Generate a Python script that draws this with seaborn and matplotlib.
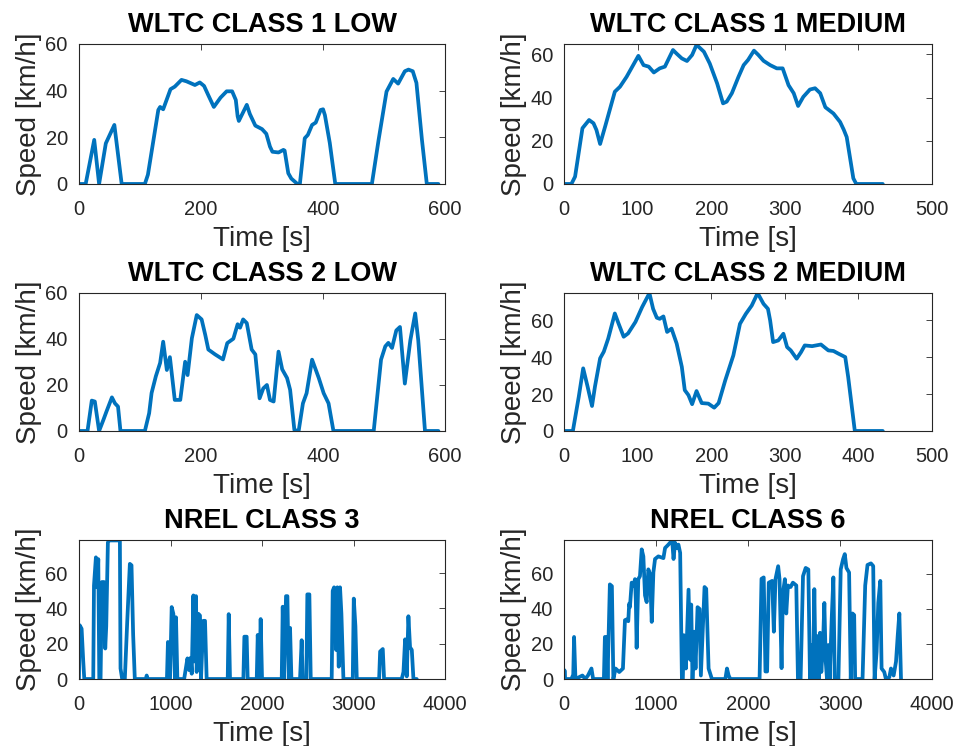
import pandas as pd
import matplotlib
matplotlib.use("Agg")
import matplotlib.pyplot as plt
import seaborn as sns

# ---------- data ----------
WLTC1_LOW_T = [0, 11, 25, 33, 44, 58, 70, 108, 113, 130, 133, 138, 150, 157, 168, 176,
               190, 198, 205, 212, 221, 232, 242, 251, 257, 260, 262, 275, 280, 289, 300,
               307, 313, 317, 327, 335, 337, 343, 348, 358, 362, 370, 375, 382, 388, 396,
               400, 403, 411, 420, 480, 491, 504, 515, 523, 534, 540, 547, 553, 562, 570, 589]
WLTC1_LOW_V = [0, 0, 18.9, 0, 17.4, 25.3, 0, 0, 4, 31.7, 33, 32, 40.6, 41.7, 44.6, 44,
               42.4, 43.5, 42, 38, 33, 37, 39.7, 39.7, 36, 29, 27, 33.9, 30, 25, 23.5,
               21.5, 16, 13.8, 13.5, 14.6, 14.3, 4.6, 2.3, 0, 0, 19.6, 21, 25.3, 26.3, 31.7,
               32, 29.5, 17.6, 0, 0, 18.9, 39.6, 45, 43, 48.3, 49, 48.3, 43.3, 19, 0, 0]

WLTC1_MED_T = [0, 10, 15, 25, 34, 40, 44, 49, 56, 69, 76, 85, 99, 101, 108, 115, 122, 130,
               137, 148, 153, 160, 167, 174, 180, 185, 190, 198, 208, 216, 221, 228, 237,
               244, 250, 258, 264, 271, 280, 289, 297, 305, 312, 318, 325, 334, 341, 348,
               355, 366, 375, 380, 384, 393, 397, 433]
WLTC1_MED_V = [0, 0, 3.4, 25.8, 29.6, 28.1, 25, 18.5, 26.8, 42.7, 45, 49.6, 58.1, 59.3, 55,
               54.3, 51.6, 53.5, 54.3, 62, 60.3, 58.1, 56.9, 59.7, 64.4, 62.8, 61.2, 55.7,
               46.5, 37.3, 38.1, 42, 49.6, 55, 57.4, 61.7, 59.7, 57, 55, 53.5, 53.5, 45.7,
               42, 36.1, 40.3, 43.7, 44.3, 42, 35.5, 32.6, 28.7, 25.1, 21.7, 2.6, 0, 0]

WLTC2_LOW_T = [0, 14, 21, 26, 33, 40, 45, 54, 59, 64, 68, 108, 115, 119, 126, 133, 138,
               144, 149, 157, 166, 174, 178, 185, 193, 201, 207, 212, 223, 236, 243, 253,
               260, 264, 269, 275, 283, 289, 296, 302, 308, 313, 319, 327, 333, 341, 346,
               353, 360, 367, 373, 382, 393, 401, 409, 417, 483, 495, 502, 507, 513, 520,
               526, 534, 543, 551, 556, 567, 589]
WLTC2_LOW_V = [0, 0, 13.2, 12.8, 0, 4.8, 8.4, 14.6, 12, 10.6, 0, 0, 7.7, 16.5, 23.8, 29.6,
               38.8, 26.5, 32.1, 13.5, 13.5, 30.1, 24.3, 40.3, 50.4, 48.5, 41.7, 35.4,
               33.3, 31.1, 38.2, 40.1, 46.4, 44.9, 48.5, 46.9, 35.4, 33.3, 14.2, 18.5, 20,
               13.5, 12.8, 34.5, 26.8, 23, 17.9, 0.4, 0, 12, 16.4, 31, 23, 16.4, 12, 0, 0,
               31, 36.8, 38.3, 36.1, 43.7, 45.2, 20.6, 39.4, 51.1, 39.4, 0, 0]

WLTC2_MED_T = [0, 12, 20, 26, 32, 38, 42, 49, 54, 60, 69, 74, 81, 87, 97, 106, 116, 121,
               126, 130, 135, 140, 146, 153, 160, 164, 169, 174, 180, 187, 196, 204, 210,
               219, 230, 239, 247, 255, 263, 271, 277, 280, 284, 291, 298, 303, 308, 316,
               322, 327, 337, 349, 359, 366, 373, 382, 386, 391, 395, 433]
WLTC2_MED_V = [0, 0, 18.5, 33.9, 24, 13.5, 24, 39.3, 42.9, 50, 63.6, 58.2, 51, 52.8, 59, 67,
               74.6, 66.1, 61.3, 60.7, 62, 53.6, 55.4, 47.3, 34.7, 22.1, 19.4, 14.5, 21.6,
               15.1, 14.8, 12.6, 15.1, 27.4, 40.9, 58, 63.4, 67.9, 74.6, 68.8, 66.1, 59.8,
               48.1, 49, 52.6, 45.4, 43.6, 39.1, 42.7, 46.3, 45.9, 46.8, 43.6, 43.3, 41.8,
               40, 29.2, 13, 0, 0]

NREL3_T = [0, 8, 29, 47, 58, 156, 164, 185, 200, 211, 222, 236, 251, 273, 287, 298, 316,
           331, 447, 454, 472, 501, 527, 556, 574, 592, 610, 730, 740, 750, 961, 972, 980,
           995, 1013, 1031, 1049, 1060, 1075, 1149, 1185, 1205, 1220, 1232, 1250, 1262,
           1270, 1279, 1286, 1304, 1322, 1333, 1359, 1377, 1395, 1625, 1636, 1650, 1796,
           1807, 1832, 1843, 1942, 1953, 1971, 1985, 2000, 2215, 2226, 2240, 2262, 2277,
           2292, 2306, 2321, 2415, 2433, 2444, 2484, 2495, 2517, 2532, 2761, 2772, 2787,
           2809, 2823, 2838, 2852, 2867, 2889, 2991, 3002, 3020, 3035, 3279, 3290, 3319,
           3333, 3526, 3545, 3563, 3581, 3599, 3617, 3636, 3654, 3690]
NREL3_V = [0, 30.5, 28.5, 9.8, 0, 0, 53, 69, 52, 68, 0, 0, 55, 55, 17.3, 30, 77.5,
           78.6, 78.6, 6, 0, 0, 32.3, 65.3, 64.5, 25, 0, 0, 2, 0, 0, 21, 0,
           0, 40.8, 37, 0, 35, 0, 0, 11.7, 5, 12, 3, 47.4, 10,
           46, 47, 4, 37, 36, 0, 33, 33, 0, 0, 36.8, 0, 0,
           24, 24, 0, 0, 25, 0, 34, 0, 0, 41, 0, 47, 47,
           0, 29, 0, 0, 22, 0, 0, 48, 48, 0, 0, 50, 52,
           16.5, 52, 7, 52, 37, 0, 0, 45.6, 30, 0, 0, 15.6, 17,
           0, 0, 4, 22.5, 1.5, 35.6, 18, 16.5, 0, 0]

NREL6_T = [0, 5, 12, 80, 100, 109, 124, 200, 230, 260, 298, 316, 433, 444, 462, 473, 498,
           520, 536, 560, 600, 640, 662, 680, 698, 708, 716, 735, 753, 771, 780, 789, 807,
           825, 844, 862, 880, 898, 916, 935, 953, 971, 989, 1025, 1080, 1098, 1134, 1175,
           1190, 1207, 1225, 1243, 1262, 1281, 1291, 1302, 1324, 1353, 1371, 1382, 1396,
           1415, 1429, 1451, 1473, 1487, 1509, 1527, 1545, 1560, 1571, 1607, 1753, 1771,
           1789, 1807, 2125, 2146, 2170, 2189, 2207, 2225, 2262, 2280, 2298, 2327, 2342,
           2364, 2378, 2400, 2415, 2433, 2462, 2487, 2524, 2542, 2571, 2597, 2626, 2655,
           2673, 2691, 2706, 2720, 2735, 2753, 2771, 2782, 2796, 2815, 2829, 2844, 2858,
           2873, 2887, 2909, 2927, 2942, 2982, 3007, 3033, 3051, 3069, 3098, 3116, 3135,
           3153, 3164, 3244, 3273, 3298, 3335, 3360, 3375, 3397, 3415, 3437, 3451, 3480,
           3498, 3535, 3553, 3582, 3608, 3626, 3644, 3662]
NREL6_V = [0, 5, 0, 0, 2.5, 24, 0, 2, 0, 2, 6, 0, 0, 24, 24, 0, 54,
           53, 0, 6, 4, 6, 33.6, 34, 33, 43, 41, 55, 53, 57, 45, 17.8, 57,
           58.7, 74, 70, 47.7, 43.9, 62.6, 59.8, 32.6, 60.9, 68.5, 70, 69, 74.8, 76.7, 79.2,
           68.5, 77.8, 74.8, 76.7, 72, 0, 0, 25, 6, 51, 11, 42.5, 0,
           27, 6, 41, 40, 2, 29, 52.5, 51.5, 25, 6, 0, 0, 6,
           2, 0, 0, 57.2, 58, 4.3, 4.3, 55, 56, 27, 57, 64.4, 57,
           6.2, 48.7, 57, 37.4, 53.4, 52.5, 55, 53.4, 0, 0, 58.7, 63.4, 62.5,
           0, 19.4, 0, 51.3, 0, 24.5, 0, 26.4, 4, 20.6, 43.4, 10, 0,
           19.4, 0, 34.5, 58, 0, 0, 62.6, 68.5, 71.3, 63.4, 60.8, 0, 37.4,
           36.5, 0, 0, 53.4, 65.1, 66, 64.5, 0, 15.6, 43.4, 56, 6, 4,
           0, 1, 6, 2, 10, 24.5, 37.4, 0]

PANELS = [
    ("WLTC CLASS 1 LOW", WLTC1_LOW_T, WLTC1_LOW_V, 600, [0, 200, 400, 600], 60),
    ("WLTC CLASS 1 MEDIUM", WLTC1_MED_T, WLTC1_MED_V, 500, [0, 100, 200, 300, 400, 500], 64.8),
    ("WLTC CLASS 2 LOW", WLTC2_LOW_T, WLTC2_LOW_V, 600, [0, 200, 400, 600], 60),
    ("WLTC CLASS 2 MEDIUM", WLTC2_MED_T, WLTC2_MED_V, 500, [0, 100, 200, 300, 400, 500], 74.7),
    ("NREL CLASS 3", NREL3_T, NREL3_V, 4000, [0, 1000, 2000, 3000, 4000], 78.7),
    ("NREL CLASS 6", NREL6_T, NREL6_V, 4000, [0, 1000, 2000, 3000, 4000], 79.2),
]

# axes boxes in figure fraction (left, bottom, width, height)
COL_LEFT = [0.0826, 0.590]
COL_W = [0.383, 0.385]
ROW_BOTTOM = [0.7534, 0.4223, 0.0898]
ROW_H = [0.1877, 0.185, 0.186]

LINE_COLOR = "#0072BD"
TXT = "#262626"

sns.set_style("white")
plt.rcParams.update({
    "font.family": ["Liberation Sans", "DejaVu Sans"],
    "axes.edgecolor": TXT,
    "axes.linewidth": 0.8,
    "xtick.color": TXT,
    "ytick.color": TXT,
})

fig = plt.figure(figsize=(9.56, 7.46), dpi=100)

for i, (title, t, v, xmax, xticks, ymax) in enumerate(PANELS):
    r, c = divmod(i, 2)
    ax = fig.add_axes([COL_LEFT[c], ROW_BOTTOM[r], COL_W[c], ROW_H[r]])
    df = pd.DataFrame({"t": t, "v": v})
    sns.lineplot(data=df, x="t", y="v", ax=ax, color=LINE_COLOR, linewidth=2.7,
                 estimator=None, sort=False, solid_joinstyle="round",
                 solid_capstyle="round")
    ax.set_xlim(0, xmax)
    ax.set_ylim(0, ymax)
    ax.set_xticks(xticks)
    ax.set_yticks([0, 20, 40, 60])
    ax.tick_params(axis="both", which="both", labelsize=14.5, length=4, width=0.6,
                   top=True, right=True, direction="in", labelcolor=TXT)
    ax.tick_params(axis="x", pad=11.5)
    ax.tick_params(axis="y", pad=8)
    ax.set_xlabel("Time [s]", fontsize=20, color=TXT, labelpad=5)
    ax.set_ylabel("Speed [km/h]", fontsize=20, color=TXT, labelpad=2.5)
    ax.set_title(title, fontsize=19.5, fontweight="bold", color="black", pad=8.5)
    for s in ax.spines.values():
        s.set_visible(True)
        s.set_color(TXT)

fig.savefig("out.png", dpi=100)
